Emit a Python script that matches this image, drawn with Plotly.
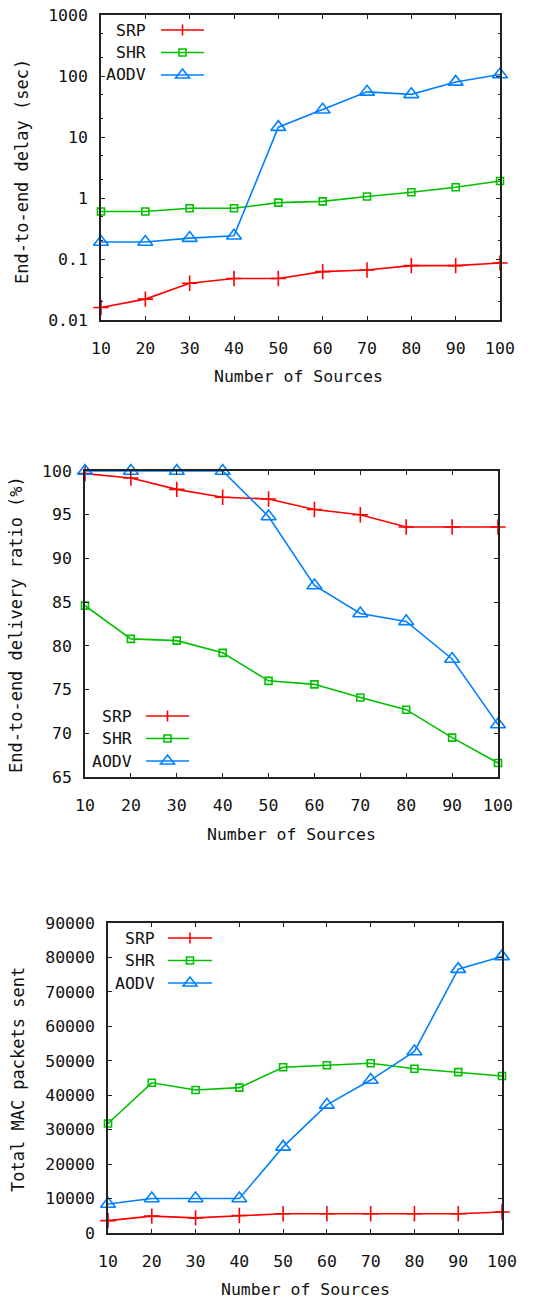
import plotly.graph_objects as go

W, H = 539, 1299
OFF = 0  # body margin is removed below, so the figure sits at the top-left corner

sources = [10, 20, 30, 40, 50, 60, 70, 80, 90, 100]
x_ticks = [10, 20, 30, 40, 50, 60, 70, 80, 90, 100]
series_names = ["SRP", "SHR", "AODV"]

delay_srp = [0.016, 0.022, 0.040, 0.048, 0.048, 0.062, 0.066, 0.078, 0.078, 0.086]
delay_shr = [0.60, 0.60, 0.68, 0.68, 0.84, 0.88, 1.06, 1.24, 1.50, 1.90]
delay_aodv = [0.19, 0.19, 0.22, 0.24, 14.5, 28.0, 55.0, 50.0, 80.0, 106.0]

pdr_srp = [99.7, 99.2, 97.9, 97.0, 96.8, 95.6, 95.0, 93.6, 93.6, 93.6]
pdr_shr = [84.6, 80.8, 80.6, 79.2, 76.0, 75.6, 74.1, 72.7, 69.5, 66.6]
pdr_aodv = [100.0, 100.0, 100.0, 100.0, 94.8, 86.9, 83.7, 82.8, 78.5, 71.0]

mac_srp = [3600, 4900, 4400, 5100, 5600, 5600, 5600, 5600, 5600, 6100]
mac_shr = [31800, 43600, 41500, 42200, 48100, 48700, 49300, 47700, 46700, 45600]
mac_aodv = [8400, 10000, 10000, 10000, 25000, 37200, 44400, 52700, 76600, 80300]

delay_ticks = [0.01, 0.1, 1, 10, 100, 1000]
delay_labels = ["0.01", "0.1", "1", "10", "100", "1000"]

COL = {"SRP": "#ff0000", "SHR": "#00c000", "AODV": "#0080ff"}
SYM = {"SRP": "cross-thin-open", "SHR": "square-open", "AODV": "triangle-up-open"}
SIZE = {"SRP": 11, "SHR": 7, "AODV": 13}
FONT = "DejaVu Sans Mono"
FS = 16.5
FS_Y = 17
TXT = "#111111"

# plot areas in screen pixels: (left, right, top, bottom)
areas = [(101, 500, 15, 320), (85, 498, 471, 777), (108, 502, 923, 1233)]

def px(x):
    return (x - OFF) / W

def py(y):
    return 1 - (y - OFF) / H

fig = go.Figure()

datasets = [
    (delay_srp, delay_shr, delay_aodv),
    (pdr_srp, pdr_shr, pdr_aodv),
    (mac_srp, mac_shr, mac_aodv),
]

for i, ds in enumerate(datasets):
    xa = "x" if i == 0 else f"x{i+1}"
    ya = "y" if i == 0 else f"y{i+1}"
    for name, vals in zip(series_names, ds):
        fig.add_trace(go.Scatter(
            x=sources, y=vals, mode="lines+markers", name=name,
            xaxis=xa, yaxis=ya, showlegend=False, cliponaxis=False,
            line=dict(color=COL[name], width=1.6),
            marker=dict(symbol=SYM[name], size=SIZE[name], color=COL[name],
                        line=dict(width=1.6, color=COL[name])),
        ))

axis_common = dict(
    showline=True, linecolor="#222222", linewidth=1.6, mirror="ticks",
    ticks="inside", ticklen=4, tickwidth=1.2, tickcolor="#222222",
    showgrid=False, zeroline=False, automargin=False, ticklabeloverflow="allow",
    tickfont=dict(family=FONT, size=FS, color=TXT),
)

layout = dict(
    width=W, height=H, margin=dict(l=0, r=0, t=0, b=0, autoexpand=False),
    paper_bgcolor="white", plot_bgcolor="white",
    font=dict(family=FONT, size=FS, color=TXT),
)

yspecs = [
    dict(type="log", range=[-2, 3], tickvals=delay_ticks, ticktext=delay_labels,
         minor=dict(ticks="inside", ticklen=2, tickcolor="#222222", showgrid=False)),
    dict(range=[65, 100], dtick=5, tick0=65),
    dict(range=[0, 90000], dtick=10000, tick0=0, tickformat="d"),
]

for i, (l, r, t, b) in enumerate(areas):
    k = "" if i == 0 else str(i + 1)
    layout[f"xaxis{k}"] = dict(
        domain=[px(l), px(r)], anchor=f"y{k}", range=[10, 100],
        tickvals=x_ticks, ticklabelstandoff=12, **axis_common)
    layout[f"yaxis{k}"] = dict(
        domain=[py(b), py(t)], anchor=f"x{k}", ticklabelstandoff=8,
        **yspecs[i], **axis_common)

fig.update_layout(**layout)

# axis titles
xtitles = [(298, 376), (291, 834), (305, 1289)]
ytitles = [(22, 172, "End-to-end delay (sec)"),
           (16, 625, "End-to-end delivery ratio (%)"),
           (18, 1080, "Total MAC packets sent")]
for (xx, yy) in xtitles:
    fig.add_annotation(text="Number of Sources", x=px(xx), y=py(yy), xref="paper", yref="paper",
                       showarrow=False, xanchor="center", yanchor="middle",
                       font=dict(family=FONT, size=FS, color=TXT))
for (xx, yy, txt) in ytitles:
    fig.add_annotation(text=txt, x=px(xx), y=py(yy), xref="paper", yref="paper",
                       showarrow=False, xanchor="center", yanchor="middle", textangle=-90,
                       font=dict(family=FONT, size=FS_Y, color=TXT))

# custom gnuplot-style legends: (text right edge, line start, line end, first row y)
legends = [(148, 161, 204, 30), (134, 146, 189, 716), (157, 168, 212, 938)]
row = 22.5
for (tx, l0, l1, y0) in legends:
    for j, name in enumerate(series_names):
        yy = y0 + j * row
        c = COL[name]
        fig.add_annotation(text=name, x=px(tx), y=py(yy), xref="paper", yref="paper",
                           showarrow=False, xanchor="right", yanchor="middle",
                           font=dict(family=FONT, size=FS, color=TXT))
        fig.add_shape(type="line", xref="paper", yref="paper",
                      x0=px(l0), x1=px(l1), y0=py(yy), y1=py(yy),
                      line=dict(color=c, width=1.6))
        mx = (l0 + l1) / 2
        if name == "SRP":
            fig.add_shape(type="line", xref="paper", yref="paper",
                          x0=px(mx), x1=px(mx), y0=py(yy - 5.5), y1=py(yy + 5.5),
                          line=dict(color=c, width=1.6))
        elif name == "SHR":
            fig.add_shape(type="rect", xref="paper", yref="paper",
                          x0=px(mx - 3.5), x1=px(mx + 3.5), y0=py(yy - 3.5), y1=py(yy + 3.5),
                          line=dict(color=c, width=1.6))
        else:
            path = (f"M {px(mx - 7)} {py(yy + 3)} L {px(mx + 7)} {py(yy + 3)} "
                    f"L {px(mx)} {py(yy - 6)} Z")
            fig.add_shape(type="path", xref="paper", yref="paper", path=path,
                          line=dict(color=c, width=1.6))

fig.write_html("out.html",
               config={"displayModeBar": False},
               post_script="document.body.style.margin='0';document.body.style.overflow='hidden';")
